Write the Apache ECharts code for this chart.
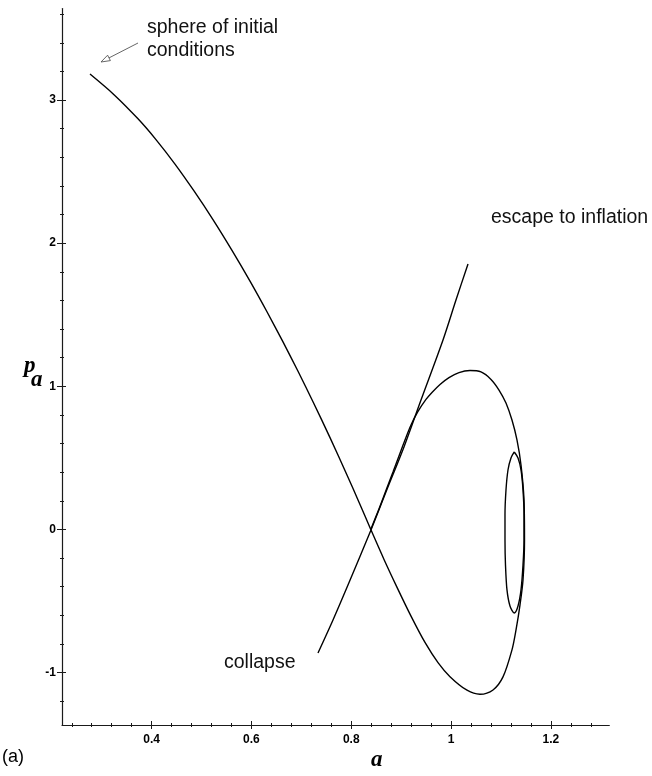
<!DOCTYPE html>
<html>
<head>
<meta charset="utf-8">
<script src="https://cdn.jsdelivr.net/npm/echarts@6/dist/echarts.min.js"></script>
<style>
  html, body { margin: 0; padding: 0; background: #fff; }
  #chart { width: 652px; height: 776px; }
</style>
</head>
<body>
<div id="chart"></div>
<script>
// Phase-space trajectory (a, p_a): from the initial sphere, through the saddle,
// around the lower lobe, up the right side and back over the upper lobe.
const trajectory = [
  [0.2765, 3.182], [0.3246, 3.038], [0.3727, 2.869], [0.4087, 2.724],
  [0.4468, 2.553], [0.4849, 2.365], [0.5229, 2.165], [0.5610, 1.950],
  [0.5971, 1.735], [0.6311, 1.521], [0.6632, 1.310], [0.6933, 1.105],
  [0.7233, 0.892], [0.7574, 0.641], [0.7914, 0.380], [0.8155, 0.190],
  [0.8395, -0.004], [0.8656, -0.210], [0.8917, -0.405], [0.9197, -0.606],
  [0.9477, -0.790], [0.9738, -0.931], [0.9978, -1.029], [1.0319, -1.124],
  [1.0579, -1.152], [1.0840, -1.122], [1.1040, -1.031], [1.1220, -0.842],
  [1.1301, -0.702], [1.1381, -0.527], [1.1441, -0.354], [1.1471, -0.074],
  [1.1461, 0.206], [1.1401, 0.450], [1.1320, 0.625], [1.1220, 0.764],
  [1.1100, 0.883], [1.0960, 0.974], [1.0800, 1.048], [1.0599, 1.100],
  [1.0379, 1.110], [1.0158, 1.096], [0.9958, 1.061], [0.9778, 1.013],
  [0.9617, 0.957], [0.9497, 0.908], [0.9337, 0.824], [0.9197, 0.730],
  [0.9076, 0.625], [0.8956, 0.513], [0.8836, 0.401], [0.8706, 0.282],
  [0.8555, 0.143], [0.8395, 0.003]
];

// Separatrix running from collapse (lower left) to escape to inflation (upper right).
const separatrix = [
  [0.7333, -0.864], [0.7634, -0.633], [0.7934, -0.389], [0.8395, -0.004],
  [0.8695, 0.261], [0.9056, 0.576], [0.9397, 0.904], [0.9838, 1.324],
  [1.0098, 1.603], [1.0339, 1.855]
];

// Small closed orbit around the centre.
const orbit = [
  [1.1266, 0.541], [1.1341, 0.499], [1.1401, 0.415], [1.1441, 0.275],
  [1.1461, 0.101], [1.1461, -0.074], [1.1441, -0.249], [1.1401, -0.423],
  [1.1341, -0.535], [1.1266, -0.584], [1.1180, -0.535], [1.1120, -0.423],
  [1.1090, -0.249], [1.1080, -0.074], [1.1080, 0.101], [1.1100, 0.275],
  [1.1140, 0.415], [1.1200, 0.499], [1.1266, 0.541]
];

// Axis ticks
const xMajorTicks = [0.4, 0.6, 0.8, 1, 1.2];
const xMinorTicks = [0.24, 0.28, 0.32, 0.36, 0.44, 0.48, 0.52, 0.56, 0.64, 0.68,
  0.72, 0.76, 0.84, 0.88, 0.92, 0.96, 1.04, 1.08, 1.12, 1.16, 1.24, 1.28];
const yMajorTicks = [-1, 0, 1, 2, 3];
const yMinorTicks = [-1.2, -0.8, -0.6, -0.4, -0.2, 0.2, 0.4, 0.6, 0.8, 1.2, 1.4,
  1.6, 1.8, 2.2, 2.4, 2.6, 2.8, 3.2, 3.4, 3.6];

const xRange = [0.2204, 1.317];
const yRange = [-1.367, 3.64];

const AXIS_COLOR = '#1a1a1a';
const labelStyle = {
  color: '#000', fontFamily: 'Liberation Sans, Arial, sans-serif',
  fontWeight: 'bold', fontSize: 12
};

function tickAxis(kind, values, inside, len, withLine, withLabels) {
  const ax = {
    type: 'value',
    position: kind === 'x' ? 'bottom' : 'left',
    min: kind === 'x' ? xRange[0] : yRange[0],
    max: kind === 'x' ? xRange[1] : yRange[1],
    splitLine: { show: false },
    axisLine: { show: withLine, onZero: false, lineStyle: { color: AXIS_COLOR, width: 1.2 } },
    axisTick: { show: true, customValues: values, inside: inside, length: len,
      lineStyle: { color: AXIS_COLOR, width: 1 } },
    axisLabel: { show: false }
  };
  if (withLabels) {
    ax.axisLabel = Object.assign({
      show: true, customValues: values,
      margin: kind === 'x' ? 9 : 6,
      formatter: v => String(Math.round(v * 100) / 100)
    }, labelStyle);
  }
  return ax;
}

const chart = echarts.init(document.getElementById('chart'), null, { renderer: 'canvas' });

const lineSeries = (data) => ({
  type: 'line', data: data, showSymbol: false, smooth: 0.3,
  lineStyle: { color: '#000', width: 1.4 }, silent: true, z: 3
});

const textFont = '19.5px "Liberation Sans", Arial, sans-serif';
const mathFont = 'italic bold 23px "Liberation Serif", "Times New Roman", serif';

chart.setOption({
  animation: false,
  backgroundColor: '#fff',
  grid: { left: 62, right: 42.7, top: 8.5, bottom: 51, containLabel: false },
  xAxis: [
    tickAxis('x', xMajorTicks, false, 4, true, true),
    tickAxis('x', xMajorTicks, true, 4, false, false),
    tickAxis('x', xMinorTicks, false, 2, false, false),
    tickAxis('x', xMinorTicks, true, 2, false, false)
  ],
  yAxis: [
    tickAxis('y', yMajorTicks, false, 5, true, true),
    tickAxis('y', yMajorTicks, true, 4, false, false),
    tickAxis('y', yMinorTicks, false, 2, false, false),
    tickAxis('y', yMinorTicks, true, 2, false, false)
  ],
  series: [
    lineSeries(trajectory),
    lineSeries(separatrix),
    lineSeries(orbit)
  ],
  graphic: [
    { type: 'text', left: 147, top: 16,
      style: { text: 'sphere of initial\nconditions', font: textFont, fill: '#111', lineHeight: 23 } },
    { type: 'text', left: 491, top: 208,
      style: { text: 'escape to inflation', font: textFont, fill: '#111' } },
    { type: 'text', left: 224, top: 653,
      style: { text: 'collapse', font: textFont, fill: '#111' } },
    { type: 'polyline', shape: { points: [[138, 43], [109, 57.9]] },
      style: { stroke: '#555', lineWidth: 0.9, fill: null } },
    { type: 'polygon', shape: { points: [[101, 62], [110.4, 60.6], [107.6, 55.2]] },
      style: { stroke: '#555', lineWidth: 0.9, fill: '#fff' } },
    { type: 'text', left: 371, top: 749,
      style: { text: 'a', font: mathFont, fill: '#000' } },
    { type: 'text', left: 24, top: 355,
      style: { text: 'p', font: mathFont, fill: '#000' } },
    { type: 'text', left: 31, top: 369,
      style: { text: 'a', font: mathFont, fill: '#000' } },
    { type: 'text', left: 2, top: 748,
      style: { text: '(a)', font: '18px "Liberation Sans", Arial, sans-serif', fill: '#000' } }
  ]
});
</script>
</body>
</html>
